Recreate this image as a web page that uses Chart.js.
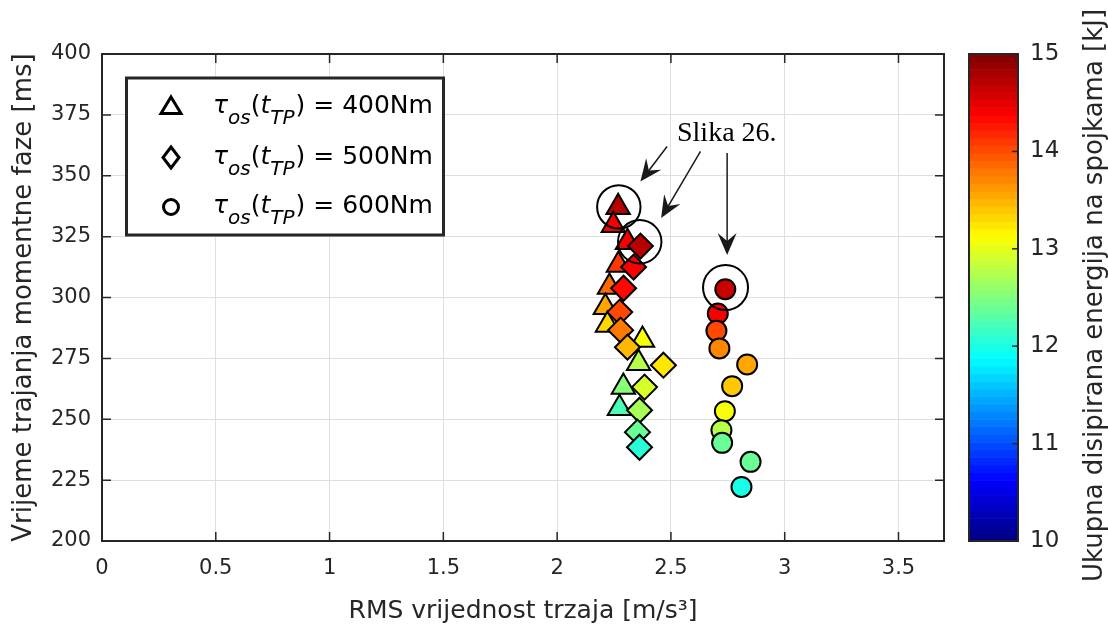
<!DOCTYPE html>
<html>
<head>
<meta charset="utf-8">
<script src="https://cdn.jsdelivr.net/npm/chart.js@4.4.0/dist/chart.umd.min.js"></script>
<style>
  html, body { margin: 0; padding: 0; background: #fff; }
  #wrap { width: 1108px; height: 628px; }
</style>
</head>
<body>
<div id="wrap"><canvas id="chart" width="1108" height="628"></canvas></div>
<script>
// RMS jerk [m/s^3], phase duration [ms], dissipated energy [kJ]
const rms400 = [2.268, 2.247, 2.309, 2.269, 2.230, 2.212, 2.221, 2.375, 2.358, 2.291, 2.274];
const time400 = [337.1, 329.7, 322.7, 313.3, 304.3, 296.0, 288.7, 282.5, 273.0, 263.2, 254.5];
const energy400 = [14.70, 14.45, 14.40, 14.12, 13.84, 13.54, 13.33, 13.05, 12.80, 12.56, 12.26];

const rms500 = [2.366, 2.336, 2.292, 2.275, 2.279, 2.309, 2.467, 2.384, 2.362, 2.353, 2.362];
const time500 = [321.1, 312.5, 303.8, 294.0, 286.6, 279.6, 272.2, 263.2, 253.7, 244.7, 238.5];
const energy500 = [14.70, 14.45, 14.30, 13.99, 13.79, 13.44, 13.25, 12.95, 12.66, 12.41, 12.07];

const rms600 = [2.739, 2.706, 2.700, 2.713, 2.835, 2.769, 2.737, 2.722, 2.725, 2.850, 2.810];
const time600 = [303.4, 293.4, 286.3, 279.1, 272.5, 263.6, 253.3, 245.5, 240.3, 232.5, 222.2];
const energy600 = [14.65, 14.40, 14.04, 13.69, 13.59, 13.40, 13.08, 12.74, 12.36, 12.35, 11.98];

const xTicks = [0, 0.5, 1, 1.5, 2, 2.5, 3, 3.5];
const yTicks = [200, 225, 250, 275, 300, 325, 350, 375, 400];
const cbTicks = [10, 11, 12, 13, 14, 15];

const legendLabels = ['400Nm', '500Nm', '600Nm'];

// highlighted points ("Slika 26.") and arrows, in data coordinates
const ringX = [2.271, 2.363, 2.740];
const ringY = [337.2, 322.9, 304.1];
const arrowFrom = [[2.483, 362.0], [2.630, 360.0], [2.747, 359.3]];
const arrowTo = [[2.366, 347.6], [2.457, 332.6], [2.747, 317.5]];

const cbMin = 10, cbMax = 15;

function jetRgb(t) {
  const c = v => Math.round(255 * Math.min(1, Math.max(0, v)));
  return [c(1.5 - Math.abs(4 * t - 3)), c(1.5 - Math.abs(4 * t - 2)), c(1.5 - Math.abs(4 * t - 1))];
}
function jetIndex(i) {
  const [r, g, b] = jetRgb((i + 0.5) / 64);
  return `rgb(${r},${g},${b})`;
}
function energyColor(e) {
  const i = Math.min(63, Math.max(0, Math.floor((e - cbMin) / (cbMax - cbMin) * 64)));
  return jetIndex(i);
}

function pts(xs, ys) {
  return xs.map((x, i) => ({ x: x, y: ys[i] }));
}

const axisColor = '#262626';
Chart.defaults.font.family = 'DejaVu Sans';
Chart.defaults.color = axisColor;

function drawArrow(ctx, x1, y1, x2, y2) {
  const ang = Math.atan2(y2 - y1, x2 - x1);
  const L = 22, W = 9.5, notch = 14;
  const cos = Math.cos(ang), sin = Math.sin(ang);
  ctx.beginPath();
  ctx.moveTo(x1, y1);
  ctx.lineTo(x2 - notch * cos, y2 - notch * sin);
  ctx.stroke();
  ctx.beginPath();
  ctx.moveTo(x2, y2);
  ctx.lineTo(x2 - L * cos - W * sin, y2 - L * sin + W * cos);
  ctx.lineTo(x2 - notch * cos, y2 - notch * sin);
  ctx.lineTo(x2 - L * cos + W * sin, y2 - L * sin - W * cos);
  ctx.closePath();
  ctx.fill();
}

function drawLegendMarker(ctx, kind, cx, cy) {
  ctx.beginPath();
  if (kind === 0) {
    ctx.moveTo(cx, cy - 9);
    ctx.lineTo(cx + 10, cy + 7.5);
    ctx.lineTo(cx - 10, cy + 7.5);
    ctx.closePath();
  } else if (kind === 1) {
    ctx.moveTo(cx, cy - 10.5);
    ctx.lineTo(cx + 8, cy);
    ctx.lineTo(cx, cy + 10.5);
    ctx.lineTo(cx - 8, cy);
    ctx.closePath();
  } else {
    ctx.arc(cx, cy, 7.5, 0, Math.PI * 2);
  }
  ctx.stroke();
}

function drawRich(ctx, x, y, parts) {
  for (const p of parts) {
    ctx.font = (p.italic ? 'italic ' : '') + p.size + 'px "DejaVu Sans"';
    ctx.fillText(p.t, x, y + (p.dy || 0));
    x += ctx.measureText(p.t).width + (p.gap || 0);
  }
}

const overlay = {
  id: 'overlay',
  beforeDatasetsDraw(chart) {
    const { ctx, chartArea: a, scales } = chart;
    ctx.save();
    ctx.strokeStyle = axisColor;
    ctx.lineWidth = 1.5;
    // inward ticks on all four sides
    ctx.beginPath();
    xTicks.forEach(v => {
      const px = scales.x.getPixelForValue(v);
      ctx.moveTo(px, a.bottom); ctx.lineTo(px, a.bottom - 9);
      ctx.moveTo(px, a.top); ctx.lineTo(px, a.top + 9);
    });
    yTicks.forEach(v => {
      const py = scales.y.getPixelForValue(v);
      ctx.moveTo(a.left, py); ctx.lineTo(a.left + 9, py);
      ctx.moveTo(a.right, py); ctx.lineTo(a.right - 9, py);
    });
    ctx.stroke();
    ctx.lineWidth = 2;
    ctx.strokeRect(a.left, a.top, a.right - a.left, a.bottom - a.top);
    ctx.restore();
  },
  afterDatasetsDraw(chart) {
    const { ctx, chartArea: a, scales } = chart;
    const sx = v => scales.x.getPixelForValue(v);
    const sy = v => scales.y.getPixelForValue(v);
    ctx.save();

    // rings around the highlighted points
    ctx.strokeStyle = '#000';
    ctx.lineWidth = 2;
    ringX.forEach((x, i) => {
      ctx.beginPath();
      ctx.arc(sx(x), sy(ringY[i]), i === 2 ? 22.5 : 21.7, 0, Math.PI * 2);
      ctx.stroke();
    });

    // arrows + text
    ctx.strokeStyle = '#1a1a1a';
    ctx.fillStyle = '#1a1a1a';
    ctx.lineWidth = 1.5;
    arrowFrom.forEach((f, i) => {
      drawArrow(ctx, sx(f[0]), sy(f[1]), sx(arrowTo[i][0]), sy(arrowTo[i][1]));
    });
    ctx.fillStyle = '#000';
    ctx.font = '28px "Liberation Serif"';
    ctx.textAlign = 'left';
    ctx.textBaseline = 'alphabetic';
    ctx.fillText('Slika 26.', 677, 141);

    // legend box
    ctx.fillStyle = '#fff';
    ctx.fillRect(126.5, 78, 317, 157);
    ctx.strokeStyle = '#262626';
    ctx.lineWidth = 3;
    ctx.strokeRect(126.5, 78, 317, 157);
    const rowY = [106, 157.5, 207];
    const baseY = [113, 164, 213];
    ctx.strokeStyle = '#000';
    ctx.lineWidth = 3;
    ctx.fillStyle = '#000';
    legendLabels.forEach((lab, i) => {
      drawLegendMarker(ctx, i, 171, rowY[i]);
      drawRich(ctx, 213, baseY[i], [
        { t: 'τ', italic: true, size: 25 },
        { t: 'os', italic: true, size: 20, dy: 11 },
        { t: '(', size: 25 },
        { t: 't', italic: true, size: 25 },
        { t: 'TP', italic: true, size: 20, dy: 11, gap: 1 },
        { t: ') = ' + lab, size: 25 }
      ]);
    });

    // colorbar
    const cbL = 969, cbR = 1018, cbT = a.top, cbB = a.bottom;
    const h = (cbB - cbT) / 64;
    for (let i = 0; i < 64; i++) {
      ctx.fillStyle = jetIndex(i);
      ctx.fillRect(cbL, cbB - (i + 1) * h, cbR - cbL, h + 0.6);
    }
    ctx.strokeStyle = axisColor;
    ctx.lineWidth = 2;
    ctx.strokeRect(cbL, cbT, cbR - cbL, cbB - cbT);
    ctx.lineWidth = 1.5;
    ctx.fillStyle = axisColor;
    ctx.font = '23px "DejaVu Sans"';
    ctx.textAlign = 'left';
    ctx.textBaseline = 'middle';
    cbTicks.forEach(v => {
      const py = cbB - (v - cbMin) / (cbMax - cbMin) * (cbB - cbT);
      ctx.beginPath();
      ctx.moveTo(cbR, py); ctx.lineTo(cbR - 6, py);
      ctx.stroke();
      ctx.fillText(String(v), 1030, py);
    });
    ctx.translate(1095, (cbT + cbB) / 2 - 2);
    ctx.rotate(-Math.PI / 2);
    ctx.textAlign = 'center';
    ctx.font = '26px "DejaVu Sans"';
    ctx.fillText('Ukupna disipirana energija na spojkama [kJ]', 0, 0);
    ctx.restore();
  }
};

const ctx = document.getElementById('chart').getContext('2d');
const chart = new Chart(ctx, {
  type: 'scatter',
  data: {
    datasets: [
      {
        label: '400Nm',
        data: pts(rms400, time400),
        pointStyle: 'triangle',
        pointRadius: 13.5,
        backgroundColor: energy400.map(energyColor),
        borderColor: '#000',
        borderWidth: 2,
        order: 3
      },
      {
        label: '500Nm',
        data: pts(rms500, time500),
        pointStyle: 'rectRot',
        pointRadius: 12.5,
        backgroundColor: energy500.map(energyColor),
        borderColor: '#000',
        borderWidth: 2,
        order: 2
      },
      {
        label: '600Nm',
        data: pts(rms600, time600),
        pointStyle: 'circle',
        pointRadius: 10,
        backgroundColor: energy600.map(energyColor),
        borderColor: '#000',
        borderWidth: 2,
        order: 1
      }
    ]
  },
  options: {
    responsive: false,
    animation: false,
    devicePixelRatio: 1,
    layout: { padding: { top: 54, right: 164, left: 0, bottom: 0 } },
    plugins: {
      legend: { display: false },
      tooltip: { enabled: false }
    },
    scales: {
      x: {
        type: 'linear',
        min: 0,
        max: 3.7,
        afterBuildTicks: s => { s.ticks = xTicks.map(v => ({ value: v })); },
        afterFit: s => { s.height = 87; },
        ticks: { font: { size: 21 }, padding: 15, color: axisColor, callback: v => String(v), maxRotation: 0, autoSkip: false },
        grid: { color: '#dfdfdf', lineWidth: 1, drawTicks: false },
        border: { display: false },
        title: {
          display: true,
          text: 'RMS vrijednost trzaja [m/s³]',
          font: { size: 25 },
          color: axisColor,
          padding: { top: 0, bottom: 2 }
        }
      },
      y: {
        type: 'linear',
        min: 200,
        max: 400,
        afterBuildTicks: s => { s.ticks = yTicks.map(v => ({ value: v })); },
        afterFit: s => { s.width = 102; },
        ticks: { font: { size: 21 }, padding: 11, color: axisColor, autoSkip: false },
        grid: { color: '#dfdfdf', lineWidth: 1, drawTicks: false },
        border: { display: false },
        title: {
          display: true,
          text: 'Vrijeme trajanja momentne faze [ms]',
          font: { size: 26 },
          color: axisColor,
          padding: { top: 9, bottom: 0 }
        }
      }
    }
  },
  plugins: [overlay]
});
</script>
</body>
</html>
